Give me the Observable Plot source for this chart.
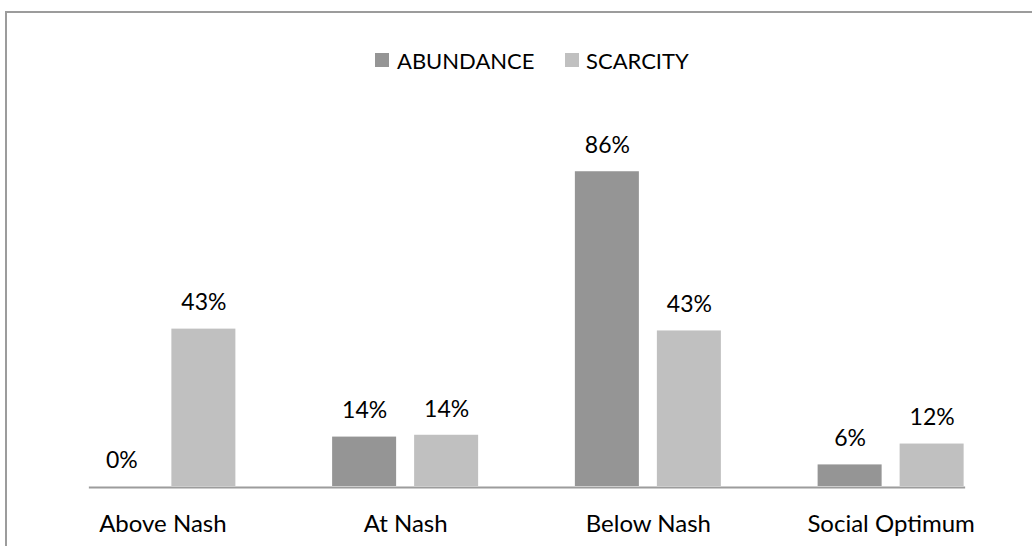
<!DOCTYPE html>
<html>
<head>
<meta charset="utf-8">
<script src="https://cdn.jsdelivr.net/npm/d3@7"></script>
<script src="https://cdn.jsdelivr.net/npm/@observablehq/plot@0.6"></script>
<style>
  html, body { margin: 0; padding: 0; background: #fff; }
  #wrap { position: relative; width: 1032px; height: 546px; overflow: hidden; font-family: Lato, "Open Sans", sans-serif; }
  #frame { position: absolute; left: 5px; top: 11px; width: 1100px; height: 600px; border-top: 2px solid #9c9c9c; border-left: 2px solid #9c9c9c; box-sizing: border-box; }
  #chart { position: absolute; left: 0; top: 0; }
  .sw { position: absolute; width: 14px; height: 14px; top: 53px; }
  .lt { position: absolute; top: 47px; font-size: 22px; line-height: 28px; color: #000; white-space: nowrap; }
</style>
</head>
<body>
<div id="wrap">
  <div id="frame"></div>
  <div id="chart"></div>
  <div id="legend"></div>
</div>
<script>
const categories = ["Above Nash", "At Nash", "Below Nash", "Social Optimum"];
const seriesNames = ["ABUNDANCE", "SCARCITY"];
const abundance = [0, 13.5, 86, 5.9];
const scarcity = [43, 14, 42.5, 11.6];
const colors = ["#959595", "#c0c0c0"];

const data = [];
categories.forEach((c, i) => {
  data.push({cat: c, series: seriesNames[0], value: abundance[i]});
  data.push({cat: c, series: seriesNames[1], value: scarcity[i]});
});

function build(baseline) {
  return Plot.plot({
    width: 1032,
    height: 546,
    marginLeft: 41,
    marginRight: 20,
    marginTop: 120,
    marginBottom: 60,
    style: {fontFamily: "Lato, 'Open Sans', sans-serif", background: "transparent", overflow: "visible"},
    fx: {domain: categories, paddingInner: 0.3985, paddingOuter: 0.19925, round: false, axis: null},
    x: {domain: seriesNames, paddingInner: 0.2195, paddingOuter: 0, round: false, axis: null},
    y: {domain: [0, 100], axis: null},
    color: {domain: seriesNames, range: colors},
    marks: [
      Plot.barY(data, {fx: "cat", x: "series", y: "value", fill: "series"}),
      baseline,
      Plot.text(data, {fx: "cat", x: "series", y: "value", text: d => Math.round(d.value) + "%", dy: -26, lineAnchor: "middle", fontSize: 23, fill: "#000"}),
      Plot.text(categories, {fx: d => d, text: d => d, frameAnchor: "bottom", dy: 38, lineAnchor: "middle", fontSize: 24, fill: "#000"})
    ]
  });
}

let chart;
try {
  chart = build(Plot.frame({anchor: "bottom", stroke: "#9c9c9c", strokeWidth: 2, dy: 1, facet: "super"}));
} catch (e) {
  chart = build(Plot.ruleY([0], {stroke: "#9c9c9c", strokeWidth: 2, dy: 1}));
}
document.getElementById("chart").appendChild(chart);

// legend
const legend = document.getElementById("legend");
const swLeft = [375, 565];
const txtLeft = [397, 586];
seriesNames.forEach((s, i) => {
  const sw = document.createElement("div");
  sw.className = "sw";
  sw.style.left = swLeft[i] + "px";
  sw.style.background = colors[i];
  legend.appendChild(sw);
  const t = document.createElement("div");
  t.className = "lt";
  t.style.left = txtLeft[i] + "px";
  t.textContent = s;
  legend.appendChild(t);
});
</script>
</body>
</html>
